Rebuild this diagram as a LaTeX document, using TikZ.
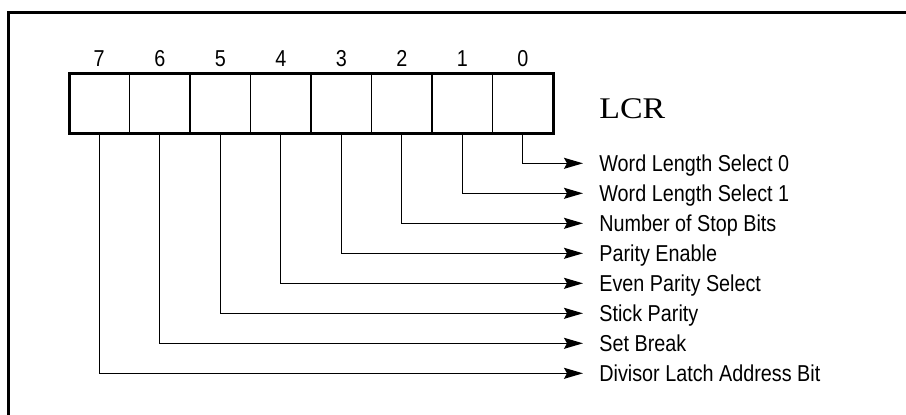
\documentclass[tikz,border=0pt]{standalone}
\usepackage{fontspec}
\setmainfont{Liberation Sans}
\newfontfamily\labelfont[FakeStretch=0.86]{Liberation Sans}
\newfontfamily\lcrfont[FakeStretch=1.13]{Liberation Serif}
\usetikzlibrary{arrows.meta}
\usetikzlibrary{positioning}

\begin{document}
\begin{tikzpicture}[x=0.5pt,y=-0.5pt]
  \tikzset{cell/.style = {draw, line width=0.7pt, minimum width=30.25pt,
      minimum height=30pt, inner sep=0pt, outer sep=0pt}}
  \tikzset{bitnum/.style = {anchor=base, inner sep=0pt, font=\labelfont\fontsize{11.5}{13}\selectfont}}
  \tikzset{field/.style = {anchor=west, inner sep=0pt, text height=8.35pt,
      text depth=0pt, font=\labelfont\fontsize{11.5}{13}\selectfont}}
  \tikzset{line/.style = {draw, line width=0.65pt,
      -{Stealth[length=9.5pt, width=5.5pt, inset=1.5pt]}, shorten >=8pt}}

  \useasboundingbox (0,0) rectangle (906,414);
  \clip (0,0) rectangle (906,414);
  \draw[line width=1.5pt] (8,12) rectangle (940,450);

  %%%%%%%%%%%% register, bit 7 on the left

  \foreach \k in {0,...,7} {
    \node[cell] (c\k) at ({99.25+60.5*(7-\k)},103) {};
    \node[bitnum] (n\k) at ({99.25+60.5*(7-\k)},66.7) {\k};
  }
  \draw[line width=1.5pt] (c7.north west) rectangle (c0.south east);

  \node[anchor=base west, inner sep=0pt,
  font=\lcrfont\fontsize{15}{18}\selectfont] (lcr) at (599,118) {LCR};

  %%%%%%%%%%%% one field per bit

  \foreach \k/\txt in {0/Word Length Select 0, 1/Word Length Select 1,
    2/Number of Stop Bits, 3/Parity Enable, 4/Even Parity Select,
    5/Stick Parity, 6/Set Break, 7/Divisor Latch Address Bit} {
    \node[field] (f\k) at (599,{163.3+30*\k}) {\txt};
    \path[line] (c\k.south) |- (f\k.west);
  }

\end{tikzpicture}
\end{document}
